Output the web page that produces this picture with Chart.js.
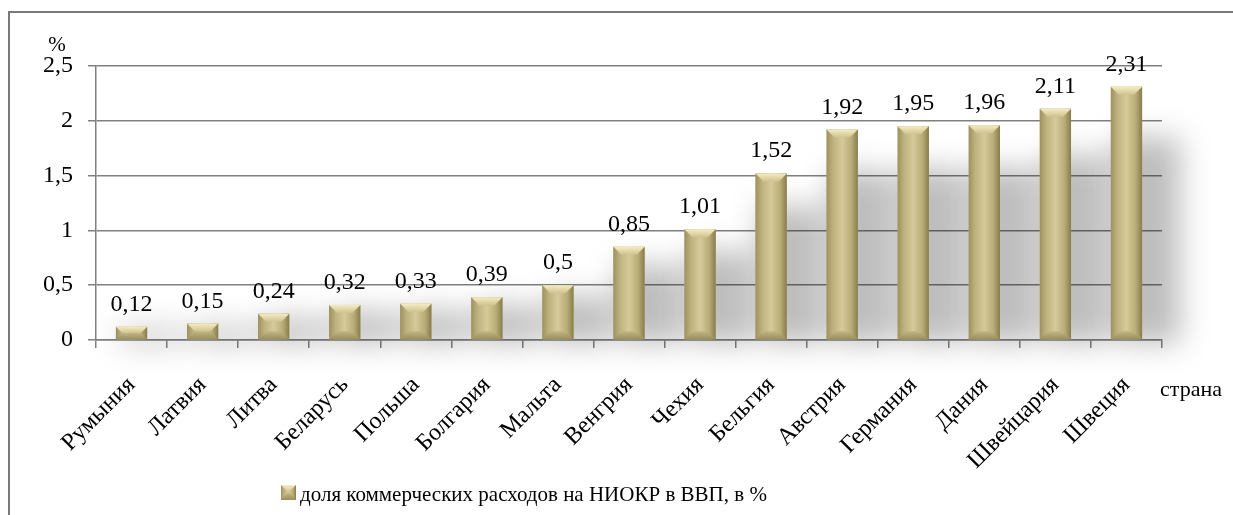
<!DOCTYPE html>
<html>
<head>
<meta charset="utf-8">
<script src="https://cdn.jsdelivr.net/npm/chart.js@4.4.1/dist/chart.umd.min.js"></script>
<style>
  body { margin: 0; background: #fff; }
  #wrap { position: relative; width: 1233px; height: 515px; }
</style>
</head>
<body>
<div id="wrap"><canvas id="rdChart"></canvas></div>
<script>
// data
var countries = ["Румыния", "Латвия", "Литва", "Беларусь", "Польша", "Болгария", "Мальта",
    "Венгрия", "Чехия", "Бельгия", "Австрия", "Германия", "Дания", "Швейцария", "Швеция"];
var rdShare = [0.12, 0.15, 0.24, 0.32, 0.33, 0.39, 0.5, 0.85, 1.01, 1.52, 1.92, 1.95, 1.96, 2.11, 2.31];
var yTicks = [0, 0.5, 1, 1.5, 2, 2.5];
var seriesName = "доля коммерческих расходов на НИОКР в ВВП, в %";
var yUnit = "%";
var xName = "страна";

var serif = "'Liberation Serif', 'Times New Roman', serif";
var gridGrey = "#808080";

function comma(v) {
    return String(v).replace(".", ",");
}

// bevelled gold bar, like the office "bevel" effect
function drawBevelBar(ctx, l, t, w, h) {
    var r = l + w, b = t + h;
    var bv = Math.min(8, h / 2, w / 2);
    var g = ctx.createLinearGradient(l, 0, r, 0);
    g.addColorStop(0, "#9d9160");
    g.addColorStop(0.2, "#bdb17d");
    g.addColorStop(0.5, "#d6ca9a");
    g.addColorStop(0.8, "#b7ab76");
    g.addColorStop(1, "#877c4c");
    ctx.fillStyle = g;
    ctx.fillRect(l, t, w, h);
    // top bevel
    var tg = ctx.createLinearGradient(0, t, 0, t + bv);
    tg.addColorStop(0, "#f4ecc2");
    tg.addColorStop(1, "#cfc28f");
    ctx.fillStyle = tg;
    ctx.beginPath();
    ctx.moveTo(l, t); ctx.lineTo(r, t); ctx.lineTo(r - bv, t + bv); ctx.lineTo(l + bv, t + bv);
    ctx.closePath(); ctx.fill();
    // bottom bevel
    var bg = ctx.createLinearGradient(0, b - bv, 0, b);
    bg.addColorStop(0, "#c2b683");
    bg.addColorStop(1, "#9a8f5d");
    ctx.fillStyle = bg;
    ctx.beginPath();
    ctx.moveTo(l, b); ctx.lineTo(r, b); ctx.lineTo(r - bv, b - bv); ctx.lineTo(l + bv, b - bv);
    ctx.closePath(); ctx.fill();
}

var barLook = {
    id: "barLook",
    beforeDatasetsDraw: function (chart) {
        // soft shadow behind the bars
        var ctx = chart.ctx;
        var meta = chart.getDatasetMeta(0);
        ctx.save();
        ctx.filter = "blur(15px)";
        ctx.fillStyle = "rgba(0,0,0,0.26)";
        meta.data.forEach(function (bar) {
            var p = bar.getProps(["x", "y", "base", "width"], true);
            var h = (p.base - p.y) * 0.8;
            ctx.fillRect(p.x - p.width / 2 + 4, p.base - h, p.width + 34, h + 4);
        });
        ctx.restore();
    },
    afterDatasetsDraw: function (chart) {
        var ctx = chart.ctx;
        var meta = chart.getDatasetMeta(0);
        ctx.save();
        meta.data.forEach(function (bar, i) {
            var p = bar.getProps(["x", "y", "base", "width"], true);
            drawBevelBar(ctx, p.x - p.width / 2, p.y, p.width, p.base - p.y);
            ctx.fillStyle = "#000";
            ctx.font = "24px " + serif;
            ctx.textAlign = "center";
            ctx.textBaseline = "alphabetic";
            ctx.fillText(comma(rdShare[i]), p.x, p.y - 16);
        });
        ctx.restore();
    },
    afterDraw: function (chart) {
        var ctx = chart.ctx;
        var area = chart.chartArea;
        ctx.save();
        // frame
        ctx.strokeStyle = "#7a7a7a";
        ctx.lineWidth = 2;
        ctx.beginPath();
        ctx.moveTo(9, chart.height);
        ctx.lineTo(9, 12);
        ctx.lineTo(chart.width, 12);
        ctx.stroke();
        ctx.fillStyle = "#000";
        ctx.font = "21px " + serif;
        ctx.textBaseline = "alphabetic";
        ctx.textAlign = "center";
        ctx.fillText(yUnit, 57, 51);
        ctx.textAlign = "left";
        ctx.font = "22px " + serif;
        ctx.fillText(xName, area.right - 2, 396);
        // legend
        drawBevelBar(ctx, 281, 485, 15, 15);
        ctx.fillStyle = "#000";
        ctx.font = "21px " + serif;
        ctx.fillText(seriesName, 300, 501);
        ctx.restore();
    }
};

new Chart(document.getElementById("rdChart"), {
    type: "bar",
    data: {
        labels: countries,
        datasets: [{
            label: seriesName,
            data: rdShare,
            backgroundColor: "#c4b884",
            barPercentage: 0.44,
            categoryPercentage: 1
        }]
    },
    options: {
        responsive: true,
        maintainAspectRatio: false,
        animation: false,
        layout: { padding: { left: 0, right: 71, top: 66, bottom: 0 } },
        plugins: {
            legend: { display: false },
            tooltip: { enabled: false }
        },
        scales: {
            x: {
                grid: { display: true, drawOnChartArea: false, color: gridGrey, lineWidth: 1.5, tickLength: 8 },
                border: { color: gridGrey, width: 1.5 },
                ticks: {
                    color: "#000",
                    font: { family: serif, size: 24 },
                    minRotation: 45,
                    maxRotation: 45,
                    autoSkip: false,
                    padding: 23
                },
                afterFit: function (scale) { scale.height = 175; }
            },
            y: {
                min: 0,
                max: 2.5,
                grid: { color: gridGrey, lineWidth: 1.5, tickLength: 8 },
                border: { color: gridGrey, width: 1.5 },
                ticks: {
                    color: "#000",
                    font: { family: serif, size: 24 },
                    padding: 15,
                    callback: function (v) { return comma(v); }
                },
                afterBuildTicks: function (scale) {
                    scale.ticks = yTicks.map(function (v) { return { value: v }; });
                },
                afterFit: function (scale) { scale.width = 96; }
            }
        }
    },
    plugins: [barLook]
});
</script>
</body>
</html>
